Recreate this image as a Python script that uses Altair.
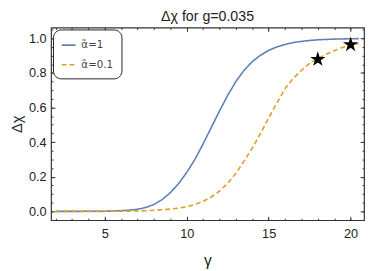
import altair as alt
import pandas as pd

# ---- data ----
gamma = [2, 3, 4, 5, 5.5, 6, 6.5, 7, 7.5, 8, 8.5, 9, 9.5, 10, 10.5, 11, 11.5, 12,
         12.5, 13, 13.5, 14, 14.5, 15, 15.5, 16, 16.5, 17, 17.5, 18, 18.5, 19,
         19.5, 20, 20.5]
chi_a1 = [0, 0, 0.0003, 0.001, 0.002, 0.004, 0.007, 0.012, 0.022, 0.04, 0.068,
          0.108, 0.16, 0.225, 0.30, 0.39, 0.485, 0.58, 0.67, 0.75, 0.815, 0.865,
          0.902, 0.93, 0.95, 0.964, 0.975, 0.982, 0.987, 0.991, 0.993, 0.995,
          0.996, 0.997, 0.998]
chi_a01 = [0, 0, 0, 0, 0.0005, 0.001, 0.0015, 0.002, 0.004, 0.006, 0.009, 0.013,
           0.018, 0.027, 0.04, 0.058, 0.083, 0.117, 0.162, 0.22, 0.29, 0.365,
           0.45, 0.54, 0.625, 0.71, 0.768, 0.815, 0.855, 0.882, 0.908, 0.928,
           0.946, 0.96, 0.97]
series_names = ["α̃=1", "α̃=0.1"]
star_gamma = [18, 20]
star_chi = [0.878, 0.963]

x_major = [5, 10, 15, 20]
x_minor = list(range(2, 21))
y_major = [0.0, 0.2, 0.4, 0.6, 0.8, 1.0]
y_minor = [round(i * 0.05, 2) for i in range(0, 22)]

colors = ["#5e81b5", "#e19c24"]
dashes = [[1, 0], [5, 3]]

lines = pd.DataFrame({
    "gamma": gamma + gamma,
    "chi": chi_a1 + chi_a01,
    "series": [series_names[0]] * len(gamma) + [series_names[1]] * len(gamma),
})
stars = pd.DataFrame({"gamma": star_gamma, "chi": star_chi})

FONT = "Liberation Sans"
xscale = alt.Scale(domain=[1.72, 20.82], nice=False, zero=False)
yscale = alt.Scale(domain=[-0.051, 1.062], nice=False, zero=False)
FRAME = "#333333"

def ax(orient, values, size, labels=False, title=None, **kw):
    return alt.Axis(orient=orient, values=values, tickSize=size, offset=-size,
                    domain=False, grid=False, labels=labels, title=title,
                    tickColor=FRAME, tickWidth=1, **kw)

star_path = ("M0,-1L0.2245,-0.309L0.951,-0.309L0.3633,0.118L0.5878,0.809L0,0.382"
             "L-0.5878,0.809L-0.3633,0.118L-0.951,-0.309L-0.2245,-0.309Z")

legend = alt.Legend(title=None, orient="none", legendX=2, legendY=2,
                    symbolType="stroke", symbolSize=200, symbolStrokeWidth=1.6,
                    labelFont="DejaVu Sans", labelFontSize=10.5, labelColor="#444",
                    strokeColor="#222", cornerRadius=8, padding=8, rowPadding=6,
                    labelOffset=5, fillColor="white")

line_layer = alt.Chart(lines).mark_line(strokeWidth=1.6).encode(
    x=alt.X("gamma:Q", scale=xscale,
            axis=ax("bottom", x_major, 4, labels=True, title="γ",
                    labelPadding=8, labelFontSize=13, labelFont=FONT,
                    labelColor="#222", titleFont=FONT, titleFontSize=16,
                    titleFontWeight="normal", titlePadding=12, titleColor="#222")),
    y=alt.Y("chi:Q", scale=yscale,
            axis=ax("left", y_major, 4, labels=True, title="Δχ", format=".1f",
                    labelPadding=5, labelFontSize=13, labelFont=FONT,
                    labelColor="#222", titleFont=FONT, titleFontSize=15,
                    titleFontWeight="normal", titlePadding=4, titleColor="#222")),
    color=alt.Color("series:N", sort=series_names,
                    scale=alt.Scale(domain=series_names, range=colors),
                    legend=legend),
    strokeDash=alt.StrokeDash("series:N", sort=series_names,
                              scale=alt.Scale(domain=series_names, range=dashes),
                              legend=legend),
)

star_layer = alt.Chart(stars).mark_point(shape=star_path, filled=True, color="black",
                                         size=270, opacity=1).encode(
    x=alt.X("gamma:Q", scale=xscale, axis=ax("top", x_major, 4)),
    y=alt.Y("chi:Q", scale=yscale, axis=ax("right", y_major, 4)),
)

minor_a = alt.Chart(stars).mark_point(opacity=0).encode(
    x=alt.X("gamma:Q", scale=xscale, axis=ax("bottom", x_minor, 2)),
    y=alt.Y("chi:Q", scale=yscale, axis=ax("left", y_minor, 2)),
)
minor_b = alt.Chart(stars).mark_point(opacity=0).encode(
    x=alt.X("gamma:Q", scale=xscale, axis=ax("top", x_minor, 2)),
    y=alt.Y("chi:Q", scale=yscale, axis=ax("right", y_minor, 2)),
)

chart = alt.layer(minor_a, minor_b, line_layer, star_layer).resolve_axis(
    x="independent", y="independent"
).properties(
    width=320, height=197,
    padding={"left": 44, "top": 17, "right": 2, "bottom": 49},
    autosize=alt.AutoSizeParams(type="none"),
    title=alt.Title("Δχ for g=0.035", font=FONT, fontSize=14.5, fontWeight="normal",
                    color="#222", offset=3, anchor="middle"),
).configure_view(stroke=FRAME, strokeWidth=1.2)

chart.save("out.html", embed_options={"renderer": "svg", "actions": False})
